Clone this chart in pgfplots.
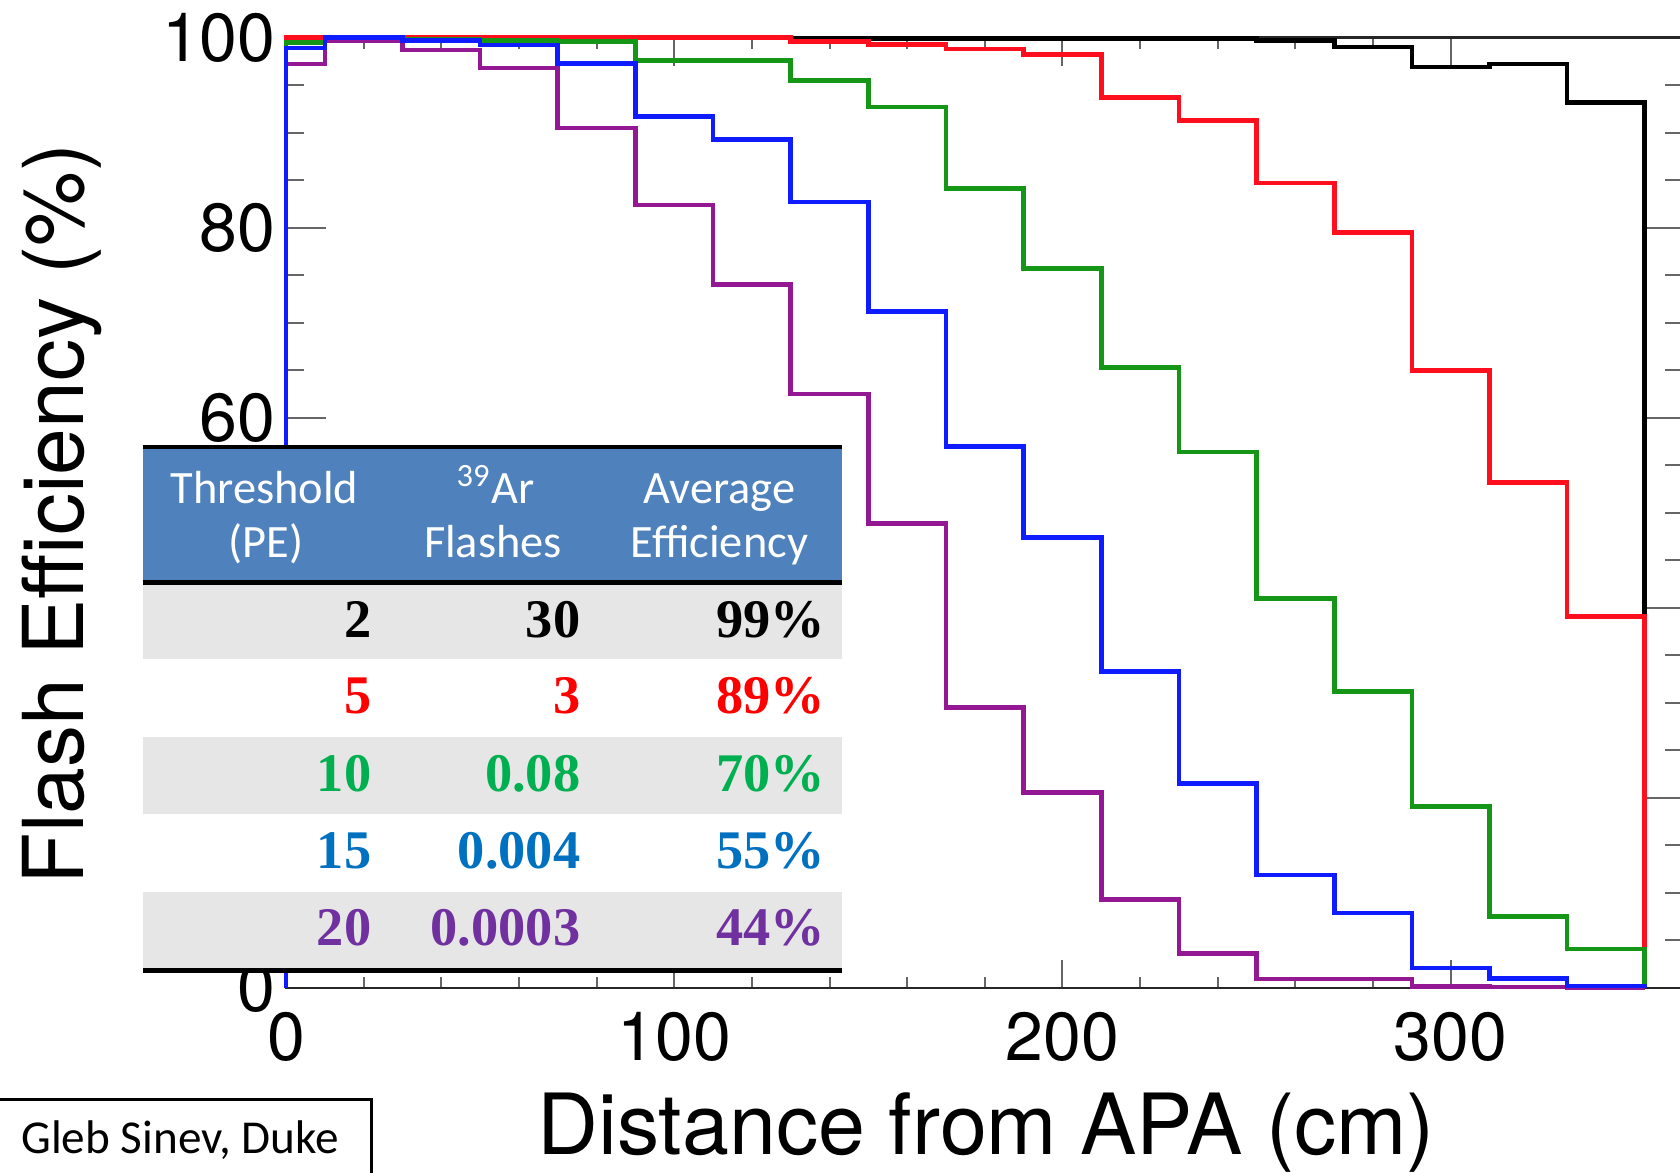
\documentclass[border=0pt]{standalone}
\usepackage{pgfplots}
\pgfplotsset{compat=1.18}
\usepackage{fontspec}
\newfontfamily\helv{TeX Gyre Heros}
\newfontfamily\calibri{Carlito}
\newfontfamily\cambria{Liberation Serif}
\definecolor{hred}{RGB}{255,14,30}
\definecolor{hgreen}{RGB}{22,150,22}
\definecolor{hblue}{RGB}{14,28,255}
\definecolor{hpurple}{RGB}{148,24,148}
\definecolor{hdrblue}{RGB}{79,129,189}
\definecolor{rowgray}{RGB}{230,230,230}
\definecolor{tgreen}{RGB}{0,176,80}
\definecolor{tblue}{RGB}{0,112,192}
\definecolor{tpurple}{RGB}{112,48,160}
\begin{document}
\begin{tikzpicture}
\path[use as bounding box] (0,0) rectangle (420pt,293.25pt);
% y ticks (own lengths)
\begin{axis}[
  at={(71.5pt,46.25pt)}, anchor=south west,
  scale only axis, width=349.4pt, height=237.6pt,
  xmin=0, xmax=360, ymin=0, ymax=100,
  xtick=\empty, ytick={0,20,40,60,80,100}, minor y tick num=3,
  major tick length=10pt, minor tick length=4.6pt,
  tick align=inside, ytick pos=both,
  every tick/.style={black!60, line width=0.5pt},
  axis line style={draw=none},
  /pgf/number format/assume math mode=true,
  yticklabel style={font=\helv\fontsize{17}{17}\selectfont, anchor=east, inner sep=0pt, xshift=-2.4pt},
]
\end{axis}
\begin{axis}[
  at={(71.5pt,46.25pt)}, anchor=south west,
  scale only axis, width=349.4pt, height=237.6pt,
  xmin=0, xmax=360, ymin=0, ymax=100,
  xtick={0,100,200,300}, minor x tick num=4, ytick=\empty,
  major tick length=7pt, minor tick length=2.8pt,
  tick align=inside, xtick pos=both,
  every tick/.style={black!60, line width=0.5pt},
  axis line style={black!85, line width=0.7pt},
  /pgf/number format/assume math mode=true,
  xticklabel style={font=\helv\fontsize{17}{17}\selectfont, anchor=base, inner sep=0pt, yshift=-18.2pt},
  xlabel={Distance from APA (cm)},
  xlabel style={font=\helv\fontsize{21.1}{21.1}\selectfont, at={(axis description cs:0.501,-0.1757)}, anchor=base},
  ylabel={Flash Efficiency (\%)},
  ylabel style={font=\helv\fontsize{21}{21}\selectfont, at={(axis description cs:-0.1448,0.4987)}, anchor=base},
  clip=false,
  every axis plot/.append style={const plot, line width=1.15pt, line join=miter},
]
\addplot[black] coordinates {(0,0)(0,100)(10,100)(30,100)(50,100)(70,100)(90,100)(110,100)(130,99.9)(150,99.9)(170,99.9)(190,99.9)(210,99.9)(230,99.9)(250,99.7)(270,99.0)(290,96.9)(310,97.2)(330,93.2)(350,0)};
\addplot[hred] coordinates {(0,0)(0,100)(10,100)(30,100)(50,100)(70,100)(90,100)(110,100)(130,99.6)(150,99.3)(170,98.8)(190,98.2)(210,93.7)(230,91.3)(250,84.7)(270,79.5)(290,65.0)(310,53.2)(330,39.1)(350,0)};
\addplot[hgreen] coordinates {(0,0)(0,99.5)(10,99.8)(30,99.8)(50,99.7)(70,99.6)(90,97.6)(110,97.6)(130,95.5)(150,92.7)(170,84.1)(190,75.7)(210,65.3)(230,56.4)(250,41.0)(270,31.2)(290,19.1)(310,7.5)(330,4.1)(350,0)};
\addplot[hpurple] coordinates {(0,0)(0,97.2)(10,99.7)(30,98.7)(50,96.8)(70,90.5)(90,82.4)(110,74.0)(130,62.5)(150,48.9)(170,29.5)(190,20.6)(210,9.3)(230,3.6)(250,0.95)(270,0.95)(290,0.15)(310,0.1)(330,0)(350,0)};
\addplot[hblue] coordinates {(0,0)(0,98.9)(10,100)(30,99.7)(50,99.2)(70,97.3)(90,91.7)(110,89.3)(130,82.7)(150,71.2)(170,57.0)(190,47.4)(210,33.3)(230,21.5)(250,11.9)(270,7.9)(290,2.1)(310,1.0)(330,0.2)(350,0)};
\end{axis}
% table overlay and credit box, in pixel units (y downward)
\begin{scope}[x=0.25pt, y=-0.25pt, shift={(0pt,293.25pt)}]
\fill[hdrblue] (142.5,447) rectangle (842,582);
\fill[rowgray] (142.5,583) rectangle (842,659);
\fill[white] (142.5,659) rectangle (842,737);
\fill[rowgray] (142.5,737) rectangle (842,814);
\fill[white] (142.5,814) rectangle (842,892);
\fill[rowgray] (142.5,892) rectangle (842,970);
\draw[line width=1.2pt] (142.5,447) -- (842,447);
\draw[line width=1.2pt] (142.5,582.5) -- (842,582.5);
\draw[line width=1.2pt] (142.5,970.5) -- (842,970.5);
\begin{scope}[every node/.style={white, font=\calibri\fontsize{11.6}{11.6}\selectfont, anchor=base, inner sep=0pt}]
\node at (264.5,503.6) {Threshold};
\node at (266,558) {(PE)};
\node at (495.5,503.6) {\textsuperscript{39}Ar};
\node at (493,558) {Flashes};
\node at (719.5,503.6) {Average};
\node at (719.5,558) {Efficiency};
\end{scope}
\begin{scope}[every node/.style={font=\cambria\bfseries\fontsize{13.6}{13.6}\selectfont, anchor=base east, inner sep=0pt}]
\node[black] at (372,638) {2};
\node[black] at (581,638) {30};
\node[black] at (826,638) {99\%};
\node[red] at (372,714) {5};
\node[red] at (581,714) {3};
\node[red] at (826,714) {89\%};
\node[tgreen] at (372,791.5) {10};
\node[tgreen] at (581,791.5) {0.08};
\node[tgreen] at (826,791.5) {70\%};
\node[tblue] at (372,869) {15};
\node[tblue] at (581,869) {0.004};
\node[tblue] at (826,869) {55\%};
\node[tpurple] at (372,946) {20};
\node[tpurple] at (581,946) {0.0003};
\node[tpurple] at (826,946) {44\%};
\end{scope}
\fill[white] (-10,1100) rectangle (371,1200);
\draw[line width=0.75pt] (-10,1100) rectangle (371,1200);
\node[anchor=base west, inner sep=0pt, font=\calibri\fontsize{11.8}{11.8}\selectfont] at (20.5,1154) {Gleb Sinev, Duke};
\end{scope}
\end{tikzpicture}
\end{document}
